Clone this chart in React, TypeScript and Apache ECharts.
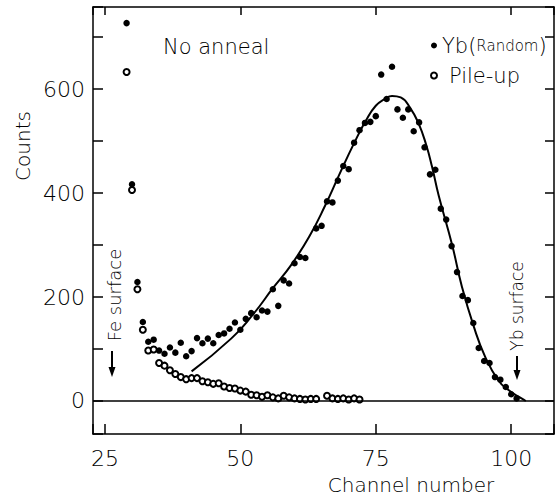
import React, { useEffect, useRef } from 'react';
import * as echarts from 'echarts';

// Yb (Random) measured counts (filled circles)
const ybChannels = [29, 30, 31, 32, 33, 34, 35, 36, 37, 38, 39, 40, 41, 42, 43, 44, 45, 46, 47, 48, 49, 50, 51, 52, 53, 54, 55, 56, 57, 58, 59, 60, 61, 62, 64, 65, 66, 67, 68, 69, 70, 71, 72, 73, 74, 75, 76, 77, 78, 79, 80, 81, 82, 83, 84, 85, 86, 87, 88, 89, 90, 91, 92, 93, 94, 95, 96, 97, 98, 99, 100, 101];
const ybCounts = [727, 417, 229, 152, 114, 118, 97, 91, 103, 93, 112, 86, 96, 121, 111, 120, 111, 127, 130, 139, 151, 137, 158, 169, 161, 174, 172, 215, 183, 232, 226, 265, 277, 275, 332, 337, 384, 382, 424, 452, 446, 497, 521, 535, 537, 548, 628, 581, 643, 561, 545, 561, 519, 536, 488, 436, 445, 370, 349, 298, 248, 202, 194, 150, 102, 77, 73, 46, 41, 27, 13, 5];

// Pile-up counts (open circles)
const pileChannels = [29, 30, 31, 32, 33, 34, 35, 36, 37, 38, 39, 40, 41, 42, 43, 44, 45, 46, 47, 48, 49, 50, 51, 52, 53, 54, 55, 56, 57, 58, 59, 60, 61, 62, 63, 64, 66, 67, 68, 69, 70, 71, 72];
const pileCounts = [633, 406, 215, 137, 97, 99, 73, 68, 59, 52, 46, 42, 44, 44, 38, 36, 33, 34, 28, 25, 24, 20, 18, 12, 11, 8, 11, 7, 5, 10, 7, 5, 4, 3, 4, 4, 10, 5, 4, 5, 3, 5, 3];

// Drawn curve
const fitChannels = [41, 48.3, 52.3, 56, 59.4, 62.7, 65.7, 68.2, 71, 73.1, 75, 76.8, 78, 79.6, 81.4, 82.9, 84.3, 85.4, 86.6, 89.1, 90.9, 93.1, 95.2, 97.6, 99.5, 101.9, 102.7];
const fitCounts = [57, 120, 166, 217, 262, 316, 377, 434, 496, 538, 568, 582, 587, 584, 563, 534, 493, 450, 396, 300, 220, 143, 85, 40, 21, 5, 0];

const xTickLabels = [25, 50, 75, 100];
const yTickLabels = [0, 200, 400, 600];

const FONT = 'DejaVu Sans';
const INK = '#000000';

export default function App() {
  const ref = useRef<HTMLDivElement>(null);

  useEffect(() => {
    if (!ref.current) return;
    const chart = echarts.init(ref.current, null, { renderer: 'svg' });
    const xMin = 22.8, xMax = 107.9, yMin = -63.5, yMax = 758;

    const xFmt = (v: number) => (xTickLabels.includes(v) ? String(v) : '');
    const yFmt = (v: number) => (yTickLabels.includes(v) ? String(v) : '');

    const lineStyle = { color: INK, width: 1.5 };
    const mkX = (pos: string, tickLen: number, labels: boolean) => ({
      type: 'value', min: xMin, max: xMax, minInterval: 25, maxInterval: 25,
      position: pos,
      axisLine: { show: true, onZero: false, lineStyle },
      axisTick: { show: true, inside: true, length: tickLen, lineStyle },
      axisLabel: { show: labels, formatter: xFmt, fontFamily: FONT, fontSize: 22, fontWeight: 300, color: INK, margin: 13 },
      splitLine: { show: false },
    });
    const mkY = (pos: string, tickLen: number, labels: boolean) => ({
      type: 'value', min: yMin, max: yMax, minInterval: 100, maxInterval: 100,
      position: pos,
      axisLine: { show: true, onZero: false, lineStyle },
      axisTick: { show: true, inside: true, length: tickLen, lineStyle },
      axisLabel: { show: labels, formatter: yFmt, fontFamily: FONT, fontSize: 22, fontWeight: 300, color: INK, margin: 8 },
      splitLine: { show: false },
    });

    const txt = (text: string, x: number, y: number, size: number, rot = 0, align = 'center') => ({
      type: 'text', x, y, rotation: rot,
      style: { text, fontFamily: FONT, fontSize: size, fontWeight: 300, fill: INK, align, verticalAlign: 'middle' },
    });

    chart.setOption({
      animation: false,
      backgroundColor: '#ffffff',
      grid: { left: 93, right: 1, top: 7, bottom: 62, containLabel: false },
      xAxis: [mkX('bottom', 10, true), mkX('top', 8, false)],
      yAxis: [mkY('left', 10, true), mkY('right', 9, false)],
      legend: {
        orient: 'vertical', left: 425, top: 30, itemWidth: 6, itemHeight: 6, itemGap: 9,
        data: [{ name: 'Yb(Random)', icon: 'circle' }, { name: 'Pile-up', icon: 'emptyCircle' }],
        formatter: (name: string) => (name === 'Yb(Random)' ? '{a|Yb(}{b|Random}{a|)}' : '{p|Pile-up}'),
        textStyle: {
          fontFamily: FONT, fontSize: 21, color: INK,
          rich: {
            a: { fontFamily: FONT, fontSize: 21, fontWeight: 300, color: INK, lineHeight: 24 },
            b: { fontFamily: FONT, fontSize: 15, fontWeight: 300, color: INK, lineHeight: 24 },
            p: { fontFamily: FONT, fontSize: 21, fontWeight: 300, color: INK, lineHeight: 24, padding: [0, 0, 0, 7] },
          },
        },
      },
      series: [
        {
          name: 'fit', type: 'line', xAxisIndex: 0, yAxisIndex: 0,
          data: fitChannels.map((c, i) => [c, fitCounts[i]]),
          showSymbol: false, smooth: 0.5,
          lineStyle: { color: INK, width: 2 },
          emphasis: { disabled: true }, silent: true,
          markLine: {
            silent: true, symbol: ['none', 'none'], label: { show: false },
            lineStyle: { color: INK, width: 1.5, type: 'solid' },
            data: [{ yAxis: 0 }],
          },
        },
        {
          name: 'Yb(Random)', type: 'scatter', xAxisIndex: 0, yAxisIndex: 0,
          data: ybChannels.map((c, i) => [c, ybCounts[i]]),
          symbol: 'circle', symbolSize: 6.5,
          itemStyle: { color: INK, opacity: 1 },
          emphasis: { disabled: true }, silent: true,
        },
        {
          name: 'Pile-up', type: 'scatter', xAxisIndex: 0, yAxisIndex: 0,
          data: pileChannels.map((c, i) => [c, pileCounts[i]]),
          symbol: 'emptyCircle', symbolSize: 6,
          itemStyle: { color: INK, borderWidth: 1, opacity: 1 },
          emphasis: { disabled: true }, silent: true,
        },
      ],
      graphic: [
        txt('No anneal', 163, 47, 21, 0, 'left'),
        txt('Counts', 23, 146, 20, Math.PI / 2),
        txt('Channel number', 411, 485, 20),
        txt('Fe surface', 114, 295, 18, Math.PI / 2),
        { type: 'line', shape: { x1: 112, y1: 351, x2: 112, y2: 369 }, style: { stroke: INK, lineWidth: 2 } },
        { type: 'polygon', shape: { points: [[108.5, 367], [115.5, 367], [112, 377]] }, style: { fill: INK } },
        txt('Yb surface', 517, 306, 17, Math.PI / 2),
        { type: 'line', shape: { x1: 517, y1: 356, x2: 517, y2: 372 }, style: { stroke: INK, lineWidth: 2 } },
        { type: 'polygon', shape: { points: [[513.5, 370], [520.5, 370], [517, 380]] }, style: { fill: INK } },
      ],
    });

    return () => chart.dispose();
  }, []);

  return (
    <div
      ref={ref}
      style={{ position: 'fixed', left: 0, top: 0, width: 557, height: 496, background: '#fff' }}
    />
  );
}
